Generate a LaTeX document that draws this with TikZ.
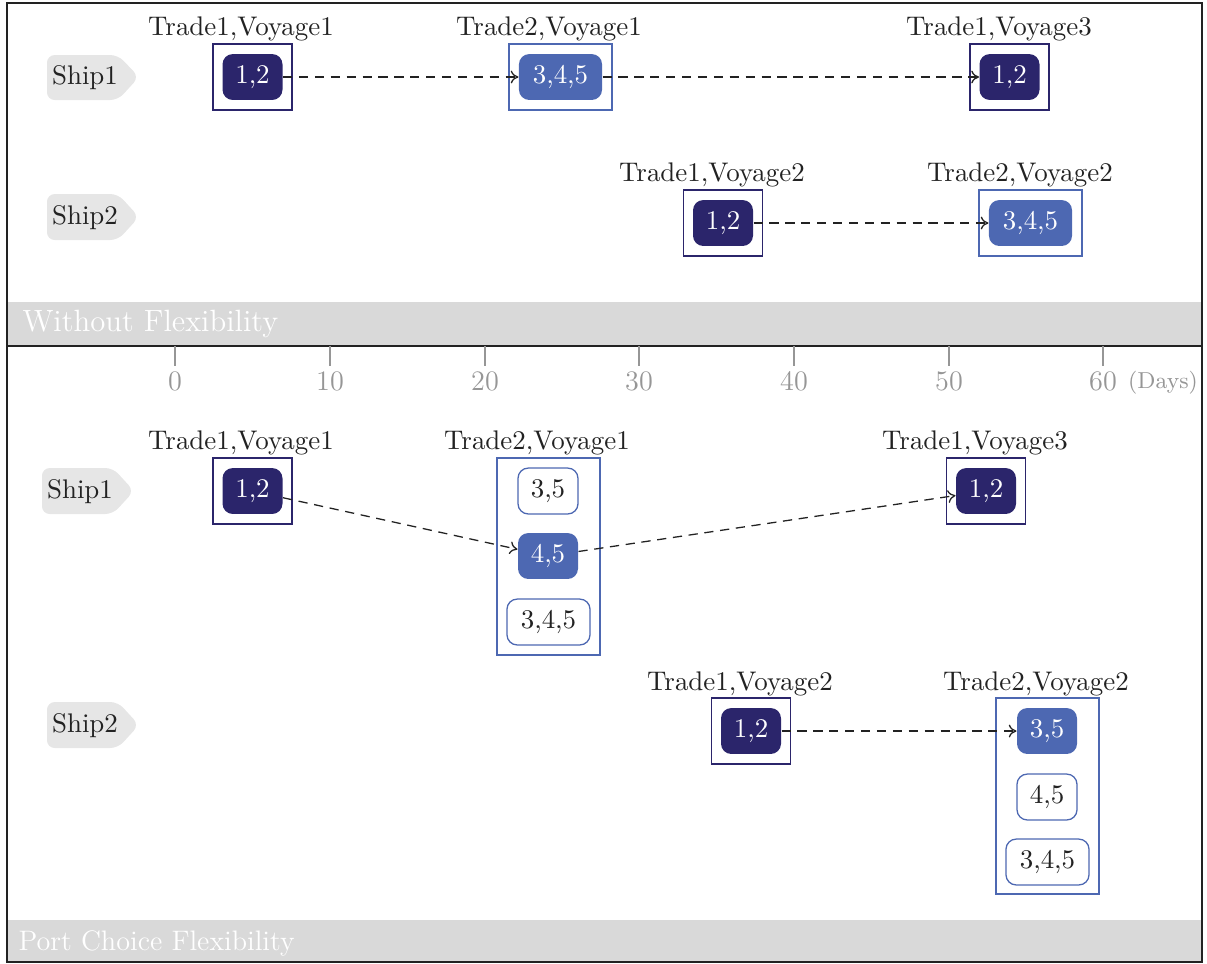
\documentclass[tikz,border=0pt]{standalone}
\usetikzlibrary{arrows.meta}
\definecolor{navy}{RGB}{43,37,107}
\definecolor{mblue}{RGB}{77,104,178}
\definecolor{band}{RGB}{217,217,217}
\definecolor{shipg}{RGB}{230,230,230}
\definecolor{txt}{RGB}{34,34,34}
\definecolor{axg}{RGB}{150,150,150}
\tikzset{
  darkbox/.style={rectangle, rounded corners=4pt, fill=navy, text=white, minimum width=23.4pt, minimum height=17.9pt, inner sep=0pt},
  bluebox/.style={rectangle, rounded corners=4pt, fill=mblue, text=white, minimum height=17.9pt, inner sep=0pt},
  openbox/.style={rectangle, rounded corners=4pt, draw=mblue, fill=white, text=txt, minimum height=17.9pt, inner sep=0pt, line width=0.5pt},
  narrow/.style={minimum width=23.4pt},
  wide/.style={minimum width=32.4pt},
  frameD/.style={rectangle, draw=navy, inner sep=0pt, minimum width=30.8pt, line width=0.5pt},
  frameB/.style={rectangle, draw=mblue, inner sep=0pt, minimum width=40.2pt, line width=0.5pt},
  tlabel/.style={text=txt, inner sep=0pt},
  link/.style={dash pattern=on 3.6pt off 2.6pt, draw=txt, line width=0.5pt, -{To[length=3pt,width=5pt]}},
  shipshape/.style={fill=shipg, rounded corners=3pt},
  shiptext/.style={text=txt, inner sep=0pt},
  axis/.style={draw=axg, line width=0.6pt},
  axlabel/.style={text=axg, inner sep=0pt},
  bandtext/.style={text=white, inner sep=0pt, anchor=base west},
}
\begin{document}
\begin{tikzpicture}[x=0.39pt, y=-0.39pt, font=\fontsize{10.5}{12.6}\selectfont]
\useasboundingbox (0,0) rectangle (1207,963);
% bands
\fill[band] (7,302) rectangle (1202,346);
\fill[band] (7,920) rectangle (1202,962);
\draw[line width=0.6pt, draw=txt] (7,3) rectangle (1202,962);
\draw[line width=0.6pt, draw=txt] (7,346) -- (1202,346);
\node[bandtext, font=\fontsize{12}{14}\selectfont] (b1) at (22,331) {Without Flexibility};
\node[bandtext, font=\fontsize{11}{13}\selectfont] (b2) at (18,950) {Port Choice Flexibility};
% axis
\foreach \v [count=\i from 0] in {175,330,485,639,794,949,1103} {
  \draw[axis] (\v,346) -- (\v,366);
  \pgfmathtruncatemacro{\d}{\i*10}
  \node[axlabel, font=\fontsize{11}{13}\selectfont] (t\i) at (\v,381) {\d};
}
\node[axlabel, font=\small] (days) at (1163,383) {(Days)};
% ships
\path[shipshape] (47,55) -- (118,55) -- (139,77) -- (118,100) -- (47,100) -- cycle;
\node[shiptext] (s1a) at (85,78) {Ship1};
\path[shipshape] (47,194) -- (118,194) -- (139,217) -- (118,240) -- (47,240) -- cycle;
\node[shiptext] (s2a) at (85,218) {Ship2};
\path[shipshape] (42,468) -- (113,468) -- (134,491) -- (113,514) -- (42,514) -- cycle;
\node[shiptext] (s1b) at (80,492) {Ship1};
\path[shipshape] (47,702) -- (118,702) -- (139,725) -- (118,748) -- (47,748) -- cycle;
\node[shiptext] (s2b) at (85,726) {Ship2};
% ---- Without flexibility
\node[frameD, minimum height=25.7pt] (fA) at (252.5,77) {};
\node[darkbox] (A) at (252.5,77) {1,2};
\node[tlabel] (lA) at (241,29) {Trade1,Voyage1};
\node[frameB, minimum height=25.7pt] (fB) at (560.5,77) {};
\node[bluebox, wide] (B) at (560.5,77) {3,4,5};
\node[tlabel] (lB) at (549,29) {Trade2,Voyage1};
\node[frameD, minimum height=25.7pt] (fC) at (1009.5,77) {};
\node[darkbox] (C) at (1009.5,77) {1,2};
\node[tlabel] (lC) at (999,29) {Trade1,Voyage3};
\node[frameD, minimum height=25.7pt] (fD) at (723,223) {};
\node[darkbox] (D) at (723,223) {1,2};
\node[tlabel] (lD) at (712,175) {Trade1,Voyage2};
\node[frameB, minimum height=25.7pt] (fE) at (1030.5,223) {};
\node[bluebox, wide] (E) at (1030.5,223) {3,4,5};
\node[tlabel] (lE) at (1020,175) {Trade2,Voyage2};
\draw[link] (A) -- (B);
\draw[link] (B) -- (C);
\draw[link] (D) -- (E);
% ---- Port choice flexibility
\node[frameD, minimum height=25.7pt] (gA) at (252.5,491) {};
\node[darkbox] (PA) at (252.5,491) {1,2};
\node[tlabel] (mA) at (241,443) {Trade1,Voyage1};
\node[frameB, minimum height=76.8pt] (gB) at (548.5,556.5) {};
\node[openbox, narrow] (PB1) at (548,491) {3,5};
\node[bluebox, narrow] (PB2) at (548,556) {4,5};
\node[openbox, wide] (PB3) at (548.5,622) {3,4,5};
\node[tlabel] (mB) at (537,443) {Trade2,Voyage1};
\node[frameD, minimum height=25.7pt] (gC) at (986,491) {};
\node[darkbox] (PC) at (986,491) {1,2};
\node[tlabel] (mC) at (975,443) {Trade1,Voyage3};
\node[frameD, minimum height=25.7pt] (gD) at (751,731) {};
\node[darkbox] (PD) at (751,731) {1,2};
\node[tlabel] (mD) at (740,684) {Trade1,Voyage2};
\node[frameB, minimum height=76.4pt] (gE) at (1047.5,796) {};
\node[bluebox, narrow] (PE1) at (1047,731) {3,5};
\node[openbox, narrow] (PE2) at (1047,797) {4,5};
\node[openbox, wide] (PE3) at (1047.5,862) {3,4,5};
\node[tlabel] (mE) at (1036,684) {Trade2,Voyage2};
\draw[link] (PA) -- (PB2);
\draw[link] (PB2) -- (PC);
\draw[link] (PD) -- (PE1);
\end{tikzpicture}
\end{document}
